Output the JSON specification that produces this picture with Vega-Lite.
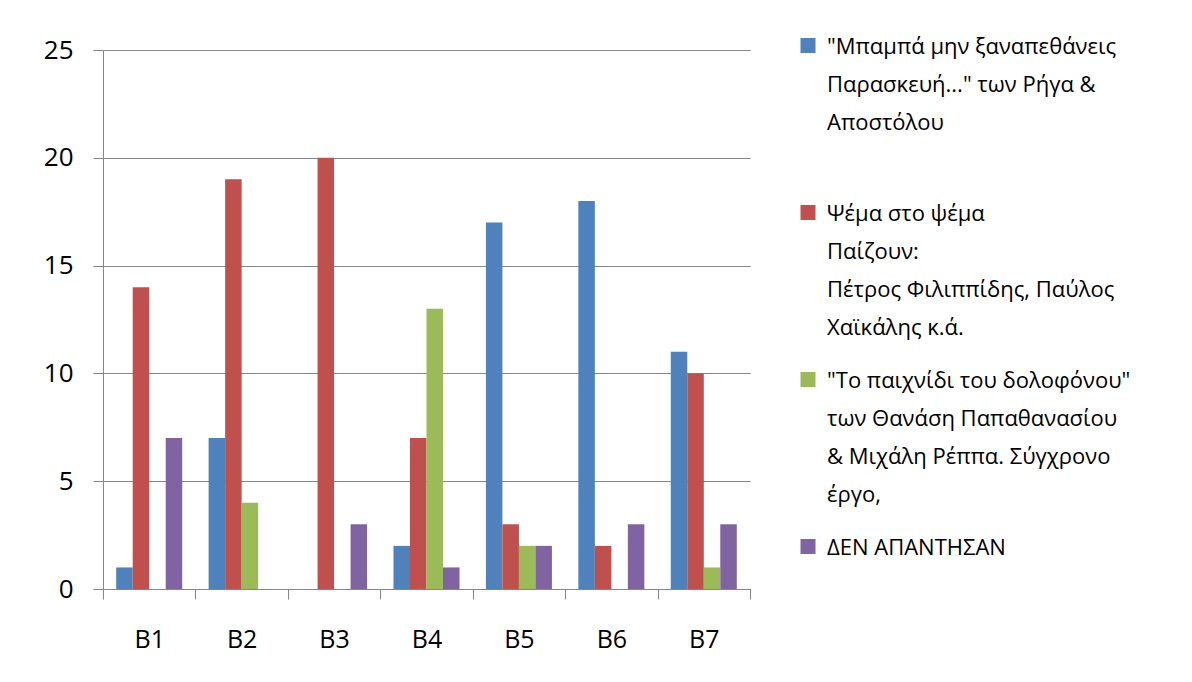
{
  "$schema": "https://vega.github.io/schema/vega-lite/v6.json",
  "width": 647,
  "height": 539,
  "autosize": "none",
  "padding": {"left": 103, "top": 50, "right": 442, "bottom": 93},
  "background": "white",
  "config": {
    "view": {"stroke": null},
    "font": "Open Sans",
    "axis": {
      "domainColor": "#868686",
      "tickColor": "#868686",
      "gridColor": "#868686",
      "labelColor": "#000000",
      "labelFont": "Open Sans",
      "tickSize": 10
    }
  },
  "data": {
    "values": [
      {"group": "B1", "series": "s1", "value": 1},
      {"group": "B1", "series": "s2", "value": 14},
      {"group": "B1", "series": "s3", "value": 0},
      {"group": "B1", "series": "s4", "value": 7},
      {"group": "B2", "series": "s1", "value": 7},
      {"group": "B2", "series": "s2", "value": 19},
      {"group": "B2", "series": "s3", "value": 4},
      {"group": "B2", "series": "s4", "value": 0},
      {"group": "B3", "series": "s1", "value": 0},
      {"group": "B3", "series": "s2", "value": 20},
      {"group": "B3", "series": "s3", "value": 0},
      {"group": "B3", "series": "s4", "value": 3},
      {"group": "B4", "series": "s1", "value": 2},
      {"group": "B4", "series": "s2", "value": 7},
      {"group": "B4", "series": "s3", "value": 13},
      {"group": "B4", "series": "s4", "value": 1},
      {"group": "B5", "series": "s1", "value": 17},
      {"group": "B5", "series": "s2", "value": 3},
      {"group": "B5", "series": "s3", "value": 2},
      {"group": "B5", "series": "s4", "value": 2},
      {"group": "B6", "series": "s1", "value": 18},
      {"group": "B6", "series": "s2", "value": 2},
      {"group": "B6", "series": "s3", "value": 0},
      {"group": "B6", "series": "s4", "value": 3},
      {"group": "B7", "series": "s1", "value": 11},
      {"group": "B7", "series": "s2", "value": 10},
      {"group": "B7", "series": "s3", "value": 1},
      {"group": "B7", "series": "s4", "value": 3}
    ]
  },
  "mark": {"type": "bar"},
  "encoding": {
    "x": {
      "field": "group",
      "type": "nominal",
      "scale": {"paddingInner": 0, "paddingOuter": 0},
      "axis": {
        "title": null,
        "labelAngle": 0,
        "tickBand": "extent",
        "labelFontSize": 25,
        "labelPadding": 28
      }
    },
    "xOffset": {
      "field": "series",
      "type": "nominal",
      "scale": {"domain": ["s1", "s2", "s3", "s4"], "paddingInner": 0, "paddingOuter": 0.8}
    },
    "y": {
      "field": "value",
      "type": "quantitative",
      "scale": {"domain": [0, 25]},
      "axis": {
        "title": null,
        "values": [0, 5, 10, 15, 20, 25],
        "grid": true,
        "labelFontSize": 26,
        "labelPadding": 20
      }
    },
    "color": {
      "field": "series",
      "type": "nominal",
      "scale": {
        "domain": ["s1", "s2", "s3", "s4"],
        "range": ["#4F81BD", "#C0504D", "#9BBB59", "#8064A2"]
      },
      "legend": {
        "title": null,
        "orient": "none",
        "legendX": 694,
        "legendY": -15.5,
        "padding": 0,
        "symbolType": "square",
        "symbolSize": 225,
        "symbolStrokeWidth": 0,
        "labelFontSize": 22,
        "labelFont": "Open Sans",
        "labelColor": "#000000",
        "labelLimit": 420,
        "labelOffset": 8,
        "rowPadding": 30,
        "labelBaseline": "top",
        "labelExpr": "datum.value == 's1' ? ['\"Μπαμπά μην ξαναπεθάνεις', 'Παρασκευή...\" των  Ρήγα &', 'Αποστόλου', ' '] : datum.value == 's2' ? ['Ψέμα στο ψέμα', 'Παίζουν:', 'Πέτρος Φιλιππίδης, Παύλος', 'Χαϊκάλης  κ.ά.'] : datum.value == 's3' ? ['\"Το παιχνίδι του δολοφόνου\"', 'των Θανάση Παπαθανασίου', '& Μιχάλη Ρέππα.  Σύγχρονο', 'έργο,'] : 'ΔΕΝ ΑΠΑΝΤΗΣΑΝ'",
        "encode": {
          "labels": {"update": {"lineHeight": {"value": 38}, "dy": {"value": -9}}}
        }
      }
    }
  }
}
